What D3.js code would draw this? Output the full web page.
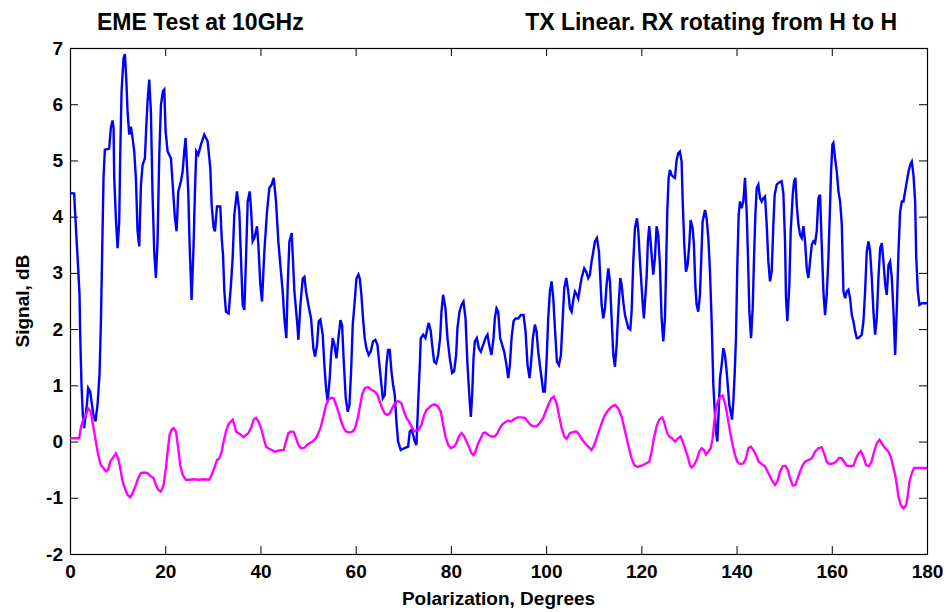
<!DOCTYPE html>
<html>
<head>
<meta charset="utf-8">
<script src="https://cdn.jsdelivr.net/npm/d3@7"></script>
<style>
  body { margin: 0; background: #fff; }
  text { font-family: "Liberation Sans", Arial, sans-serif; font-weight: bold; fill: #000; }
</style>
</head>
<body>
<div id="chart"></div>
<script>
// Axis ticks and labels
const xTicks = [0, 20, 40, 60, 80, 100, 120, 140, 160, 180];
const yTicks = [-2, -1, 0, 1, 2, 3, 4, 5, 6, 7];
const titleLeft = "EME Test at 10GHz";
const titleRight = "TX Linear. RX rotating from H to H";
const xLabel = "Polarization, Degrees";
const yLabel = "Signal, dB";

// Blue trace: [polarization deg, signal dB]
const rxSignal = [
  [0,4.42],[0.88,4.41],[1.02,4.15],[1.44,3.5],[1.72,3.08],[2,2.61],[2.14,1.9],[2.42,1],[2.7,0.47],[2.98,0.24],
  [3.54,0.65],[3.82,0.95],[4.24,0.89],[4.52,0.71],[4.94,0.47],[5.36,0.36],[5.78,0.65],[6.2,1.19],[6.48,2.08],[6.76,3.38],
  [7.04,4.69],[7.32,5.19],[8.23,5.21],[8.58,5.58],[8.93,5.71],[9.15,5.58],[9.29,4.69],[9.64,3.97],[9.99,3.44],[10.34,3.91],
  [10.55,5.1],[10.83,6.23],[11.25,6.82],[11.53,6.89],[11.81,6.46],[12.09,5.87],[12.44,5.46],[12.79,5.6],[13.14,5.4],[13.49,5.16],
  [13.84,4.69],[14.19,3.74],[14.54,3.47],[14.9,4.57],[15.25,4.92],[15.73,5.04],[16.01,5.58],[16.29,6.05],[16.64,6.44],[16.99,5.87],
  [17.34,4.39],[17.69,3.38],[18.04,2.91],[18.39,3.56],[18.75,5.1],[19.1,5.99],[19.52,6.23],[19.8,6.26],[20.08,5.52],[20.5,5.16],
  [21.2,5.04],[21.76,4.33],[22.04,3.97],[22.39,3.74],[22.74,4.45],[23.3,4.63],[23.65,4.8],[24,5.16],[24.28,5.4],[24.56,4.92],
  [24.84,4.45],[25.12,3.5],[25.54,2.52],[25.96,3.5],[26.24,4.45],[26.52,5.16],[26.94,5.1],[27.5,5.28],[28.21,5.46],[28.91,5.34],
  [29.47,4.86],[29.75,4.21],[30.17,3.8],[30.45,3.74],[30.87,4.18],[31.57,4.18],[31.86,3.62],[32.14,3.32],[32.42,2.67],[32.76,2.31],
  [33.32,2.28],[33.81,2.79],[34.16,3.26],[34.51,4.03],[35.07,4.45],[35.56,4.09],[35.91,3.26],[36.27,2.43],[36.62,2.34],[36.97,3.26],
  [37.32,4.27],[37.74,4.45],[38.02,4.15],[38.37,3.56],[38.72,3.62],[39.28,3.83],[39.56,3.5],[39.98,2.79],[40.33,2.49],[40.82,3.38],
  [41.38,4.09],[41.87,4.51],[42.36,4.57],[42.78,4.69],[43.27,4.27],[43.76,3.56],[44.18,3.14],[44.67,2.67],[45.02,2.19],[45.44,1.84],
  [45.73,2.79],[46.08,3.56],[46.57,3.71],[47.13,2.67],[47.69,2.14],[47.97,1.81],[48.39,2.43],[48.88,2.9],[49.23,2.93],[49.58,2.67],
  [50.07,2.43],[50.63,2.19],[51.12,1.66],[51.47,1.51],[51.89,1.72],[52.24,2.14],[52.59,2.17],[53.08,1.9],[53.43,1.36],[53.78,0.95],
  [54.13,0.71],[54.55,1.13],[54.83,1.54],[55.18,1.84],[55.54,1.72],[55.96,1.48],[56.38,1.84],[56.8,2.16],[57.15,2.07],[57.5,1.42],
  [57.92,0.77],[58.34,0.53],[58.69,0.65],[59.04,1.25],[59.39,2.08],[59.74,2.43],[60.16,2.9],[60.58,2.97],[60.86,2.9],[61.2,2.61],
  [61.55,2.19],[61.9,1.84],[62.25,1.66],[62.74,1.54],[63.16,1.6],[63.65,1.78],[64.14,1.81],[64.57,1.72],[64.85,1.48],[65.27,1.13],
  [65.69,0.77],[66.11,0.83],[66.46,1.36],[66.81,1.63],[67.16,1.63],[67.51,1.25],[67.86,1.01],[68.21,0.83],[68.56,0.36],[68.91,0],
  [69.47,-0.15],[70.17,-0.12],[71.01,-0.09],[71.36,0.18],[71.71,0.21],[72.06,0.12],[72.41,0],[72.76,-0.06],[73.11,0.65],[73.47,1.36],
  [73.68,1.84],[74.17,1.9],[74.66,1.84],[75.08,2.02],[75.36,2.11],[75.78,1.96],[76.06,1.72],[76.48,1.42],[76.9,1.39],[77.32,1.54],
  [77.74,1.84],[78.02,2.31],[78.37,2.61],[78.86,2.37],[79.28,1.84],[79.77,1.48],[80.26,1.22],[80.68,1.25],[81.1,1.54],[81.38,2.02],
  [81.8,2.31],[82.23,2.43],[82.65,2.49],[83.07,2.19],[83.49,1.36],[83.91,0.77],[84.19,0.44],[84.47,0.83],[84.75,1.48],[85.03,1.78],
  [85.45,1.84],[85.87,1.66],[86.29,1.6],[86.78,1.72],[87.27,1.84],[87.69,1.9],[88.04,1.72],[88.53,1.54],[88.95,1.84],[89.23,2.19],
  [89.58,2.37],[89.93,2.31],[90.35,1.84],[90.77,1.72],[91.19,1.6],[91.68,1.36],[92.04,1.13],[92.39,1.36],[92.74,1.84],[93.16,2.14],
  [93.58,2.19],[94.14,2.19],[94.7,2.25],[95.26,2.25],[95.68,1.96],[96.1,1.36],[96.52,1.13],[96.8,1.36],[97.22,1.84],[97.64,2.08],
  [97.99,1.96],[98.34,1.6],[98.69,1.36],[99.04,1.13],[99.39,0.89],[99.74,0.89],[100.09,1.42],[100.44,2.19],[100.8,2.67],[101.15,2.85],
  [101.5,2.55],[101.85,2.02],[102.27,1.42],[102.69,1.36],[103.11,1.54],[103.39,2.02],[103.81,2.73],[104.23,2.91],[104.65,2.67],[105,2.37],
  [105.35,2.31],[105.77,2.55],[106.05,2.67],[106.47,2.61],[106.75,2.55],[107.1,2.73],[107.45,2.91],[108.01,3.08],[108.43,3.02],[108.85,2.91],
  [109.2,2.97],[109.55,3.2],[109.91,3.38],[110.26,3.56],[110.68,3.62],[111.1,3.38],[111.38,2.91],[111.66,2.43],[112.01,2.19],[112.36,2.37],
  [112.71,2.79],[113.06,3.08],[113.41,2.85],[113.76,2.19],[114.11,1.54],[114.46,1.33],[114.81,1.72],[115.16,2.31],[115.58,2.91],[115.86,2.79],
  [116.21,2.49],[116.56,2.25],[116.91,2.14],[117.26,2.02],[117.68,1.99],[117.96,2.31],[118.31,3.2],[118.66,3.8],[119.09,3.97],[119.37,3.74],
  [119.72,3.2],[120.26,2.49],[120.54,2.19],[120.82,2.55],[121.1,2.91],[121.38,3.56],[121.66,3.83],[121.94,3.56],[122.22,3.26],[122.5,2.97],
  [122.85,3.26],[123.2,3.83],[123.55,3.68],[123.9,3.14],[124.26,2.19],[124.61,1.78],[124.96,2.19],[125.17,2.97],[125.45,4.09],[125.73,4.69],
  [126.01,4.83],[126.36,4.74],[126.71,4.71],[127.06,4.69],[127.41,5.01],[127.76,5.13],[128.11,5.16],[128.46,4.98],[128.67,4.33],[129.02,3.5],
  [129.37,3.02],[129.72,3.14],[130.07,3.5],[130.35,3.94],[130.77,3.8],[131.05,3.5],[131.33,2.79],[131.61,2.43],[131.96,2.31],[132.31,2.61],
  [132.59,3.26],[132.87,3.91],[133.37,4.12],[133.72,3.97],[134.07,3.62],[134.42,3.02],[134.77,2.14],[135.12,1.01],[135.47,0.47],[135.68,0.18],
  [135.96,0],[136.24,0.53],[136.52,1.13],[136.87,1.36],[137.22,1.66],[137.57,1.54],[137.92,1.25],[138.2,0.95],[138.48,0.65],[138.76,0.53],
  [139.04,0.39],[139.32,0.71],[139.6,1.19],[139.88,1.84],[140.16,3.14],[140.44,4.03],[140.72,4.27],[141.07,4.15],[141.42,4.27],[141.77,4.69],
  [142.12,4.09],[142.41,3.26],[142.69,2.31],[143.04,1.84],[143.39,2.37],[143.67,3.26],[143.95,4.03],[144.23,4.51],[144.58,4.57],[144.93,4.33],
  [145.28,4.27],[145.63,4.33],[145.98,4.36],[146.33,3.86],[146.68,3.2],[147.03,2.85],[147.38,3.02],[147.73,3.86],[148.01,4.39],[148.43,4.57],
  [148.99,4.61],[149.48,4.63],[149.83,4.42],[150.18,3.56],[150.39,2.55],[150.67,2.14],[151.09,2.79],[151.37,3.74],[151.8,4.39],[152.08,4.63],
  [152.36,4.69],[152.64,4.21],[152.99,3.86],[153.34,3.68],[153.69,3.62],[154.04,3.83],[154.39,3.56],[154.74,3.08],[155.09,2.91],[155.44,3.2],
  [155.79,3.5],[156.14,3.56],[156.49,3.53],[156.84,3.74],[157.19,4.33],[157.54,4.39],[157.89,3.5],[158.24,2.67],[158.59,2.25],[158.94,2.61],
  [159.29,3.26],[159.64,4.21],[159.85,4.8],[160.13,5.28],[160.34,5.31],[160.69,5.04],[161.05,4.8],[161.4,4.45],[161.75,4.27],[162.1,3.86],
  [162.45,2.67],[162.8,2.55],[163.15,2.67],[163.5,2.7],[163.85,2.55],[164.2,2.25],[164.55,2.14],[164.9,1.96],[165.25,1.84],[165.6,1.84],
  [165.95,1.87],[166.3,1.9],[166.65,2.14],[167,2.67],[167.35,3.38],[167.7,3.56],[168.05,3.38],[168.4,2.91],[168.75,2.31],[169.1,1.9],
  [169.45,2.19],[169.8,2.91],[170.16,3.44],[170.51,3.53],[170.86,3.2],[171.21,2.79],[171.56,2.61],[171.91,3.14],[172.26,3.2],[172.61,2.91],
  [172.96,2.31],[173.31,1.54],[173.66,2.37],[174.01,3.38],[174.36,4.09],[174.71,4.27],[175.06,4.27],[175.41,4.45],[175.76,4.63],[176.11,4.8],
  [176.46,4.92],[176.81,4.98],[177.16,4.74],[177.51,4.27],[177.72,3.32],[178.07,2.67],[178.42,2.43],[178.91,2.46],[179.62,2.46],[180,2.46]
];

// Magenta trace: [polarization deg, signal dB]
const refSignal = [
  [0,0.06],[1.93,0.06],[2.28,0.24],[2.63,0.36],[3.33,0.47],[3.82,0.59],[4.38,0.53],[4.94,0.24],[5.43,0],[5.92,-0.24],
  [6.48,-0.42],[7.04,-0.47],[7.53,-0.53],[8.02,-0.5],[8.44,-0.36],[8.93,-0.3],[9.64,-0.21],[10.13,-0.3],[10.55,-0.47],[11.04,-0.71],
  [11.53,-0.83],[12.09,-0.95],[12.65,-0.99],[13.14,-0.92],[13.84,-0.77],[14.33,-0.65],[14.89,-0.56],[15.59,-0.55],[16.29,-0.56],[16.99,-0.62],
  [17.55,-0.65],[18.04,-0.77],[18.53,-0.86],[19.1,-0.89],[19.66,-0.77],[20.15,-0.47],[20.5,-0.18],[20.92,0.12],[21.34,0.21],[21.76,0.24],
  [22.25,0.18],[22.74,-0.12],[23.16,-0.42],[23.65,-0.59],[24.35,-0.68],[25.05,-0.68],[26.1,-0.67],[27.15,-0.68],[28.21,-0.67],[29.26,-0.68],
  [29.75,-0.59],[30.31,-0.47],[30.87,-0.33],[31.36,-0.3],[31.86,-0.18],[32.27,0],[32.76,0.18],[33.25,0.3],[33.81,0.36],[34.16,0.39],
  [34.51,0.3],[34.86,0.18],[35.35,0.15],[35.91,0.12],[36.47,0.08],[36.97,0.12],[37.46,0.15],[38.02,0.24],[38.58,0.39],[39.07,0.42],
  [39.56,0.36],[40.12,0.24],[40.68,0.06],[41.17,-0.09],[41.66,-0.12],[42.36,-0.15],[43.06,-0.18],[43.97,-0.16],[44.88,-0.15],[45.37,0],
  [45.86,0.15],[46.43,0.18],[46.99,0.17],[47.48,0.06],[47.97,-0.06],[48.53,-0.12],[49.23,-0.11],[49.79,-0.06],[50.28,-0.03],[50.98,0],
  [51.68,0.06],[52.17,0.15],[52.73,0.27],[53.29,0.47],[53.78,0.65],[54.27,0.74],[54.83,0.78],[55.4,0.77],[55.89,0.65],[56.38,0.53],
  [56.94,0.36],[57.5,0.24],[57.99,0.18],[58.69,0.16],[59.39,0.18],[59.88,0.24],[60.44,0.42],[60.86,0.6],[61.34,0.83],[61.9,0.95],
  [62.6,0.97],[63.3,0.92],[64,0.89],[64.57,0.83],[65.06,0.71],[65.55,0.59],[66.11,0.5],[66.67,0.47],[67.16,0.5],[67.65,0.59],
  [68.21,0.68],[68.91,0.72],[69.61,0.68],[70.17,0.53],[70.66,0.42],[71.15,0.36],[71.71,0.27],[72.27,0.18],[72.76,0.2],[73.25,0.21],
  [73.82,0.3],[74.38,0.47],[74.87,0.56],[75.36,0.6],[75.92,0.64],[76.62,0.66],[77.32,0.62],[77.88,0.53],[78.37,0.3],[78.86,0.09],
  [79.42,-0.06],[79.98,-0.12],[80.68,-0.09],[81.17,-0.03],[81.66,0.09],[82.23,0.15],[82.79,0.09],[83.28,0],[83.77,-0.09],[84.33,-0.21],
  [84.75,-0.24],[85.17,-0.18],[85.73,-0.03],[86.29,0.06],[86.78,0.15],[87.27,0.16],[87.83,0.12],[88.53,0.09],[89.23,0.09],[89.79,0.15],
  [90.28,0.24],[90.77,0.3],[91.33,0.34],[92.04,0.37],[92.74,0.36],[93.3,0.4],[94,0.43],[94.84,0.43],[95.54,0.42],[96.1,0.36],
  [96.66,0.3],[97.29,0.27],[97.99,0.27],[98.69,0.33],[99.39,0.42],[99.88,0.53],[100.44,0.65],[101.15,0.77],[101.64,0.8],[102.2,0.68],
  [102.69,0.47],[103.25,0.24],[103.81,0.09],[104.3,0.05],[105,0.15],[105.7,0.17],[106.4,0.18],[106.89,0.13],[107.45,0.05],[108.15,-0.03],
  [108.85,-0.09],[109.55,-0.15],[110.12,-0.06],[110.61,0.06],[111.31,0.24],[111.8,0.36],[112.36,0.47],[113.06,0.56],[113.76,0.62],[114.46,0.65],
  [115.16,0.59],[115.86,0.44],[116.42,0.24],[116.91,0.06],[117.4,-0.12],[117.96,-0.3],[118.52,-0.42],[119.22,-0.45],[120.07,-0.43],[120.77,-0.4],
  [121.66,-0.36],[122.15,-0.18],[122.64,0.06],[123.2,0.27],[123.76,0.39],[124.33,0.43],[124.75,0.36],[125.31,0.18],[125.87,0.09],[126.43,0.06],
  [127.06,0],[127.76,0.06],[128.25,0.09],[128.67,0],[129.16,-0.12],[129.65,-0.24],[130.21,-0.42],[130.56,-0.46],[131.05,-0.42],[131.61,-0.33],
  [132.17,-0.18],[132.66,-0.12],[133.15,-0.15],[133.58,-0.23],[134.07,-0.18],[134.56,-0.12],[134.98,0.06],[135.33,0.36],[135.68,0.59],[136.17,0.74],
  [136.66,0.8],[137.08,0.82],[137.57,0.68],[138.06,0.47],[138.62,0.18],[139.18,-0.06],[139.67,-0.24],[140.16,-0.36],[140.72,-0.4],[141.42,-0.39],
  [141.98,-0.3],[142.48,-0.12],[142.97,-0.09],[143.53,-0.15],[144.09,-0.24],[144.65,-0.36],[145.28,-0.4],[145.98,-0.44],[146.68,-0.56],[147.38,-0.68],
  [148.08,-0.77],[148.57,-0.71],[149.13,-0.53],[149.69,-0.44],[150.25,-0.43],[150.74,-0.5],[151.23,-0.65],[151.8,-0.78],[152.36,-0.77],[152.85,-0.65],
  [153.34,-0.53],[153.9,-0.42],[154.39,-0.36],[155.09,-0.33],[155.79,-0.3],[156.49,-0.18],[157.19,-0.12],[157.89,-0.1],[158.38,-0.21],[158.94,-0.36],
  [159.5,-0.4],[160.2,-0.39],[160.91,-0.36],[161.54,-0.29],[162.1,-0.3],[162.59,-0.36],[163.15,-0.43],[163.85,-0.44],[164.55,-0.43],[165.11,-0.3],
  [165.6,-0.21],[166.09,-0.17],[166.65,-0.27],[167.21,-0.42],[167.77,-0.44],[168.33,-0.36],[168.9,-0.18],[169.46,-0.03],[170.02,0.03],[170.51,-0.03],
  [171.21,-0.12],[171.91,-0.18],[172.4,-0.27],[172.82,-0.42],[173.31,-0.59],[173.66,-0.77],[174.01,-0.98],[174.5,-1.13],[175.06,-1.19],[175.62,-1.13],
  [175.97,-0.95],[176.32,-0.71],[176.82,-0.56],[177.3,-0.47],[178.21,-0.47],[180,-0.47]
];

const width = 946;
const height = 612;
const plot = { left: 70, right: 927, top: 48, bottom: 554 };

// Create SVG
const svg = d3
  .select("#chart")
  .append("svg")
  .attr("width", width)
  .attr("height", height);

const x = d3.scaleLinear().domain([0, 180]).range([plot.left, plot.right]);
const y = d3.scaleLinear().domain([-2, 7]).range([plot.bottom, plot.top]);

// plain hyphen for negatives, like the original
const plainNum = (d) => String(d);

// Axes with inward ticks on all four sides (matlab box style)
const tickLen = 8;
svg.append("g")
  .attr("class", "x-axis")
  .attr("transform", `translate(0, ${plot.bottom})`)
  .call(d3.axisBottom(x).tickValues(xTicks).tickSize(-tickLen).tickSizeOuter(0).tickPadding(11).tickFormat(plainNum));
svg.append("g")
  .attr("transform", `translate(0, ${plot.top})`)
  .call(d3.axisTop(x).tickValues(xTicks).tickSize(-tickLen).tickSizeOuter(0).tickFormat(""));
svg.append("g")
  .attr("class", "y-axis")
  .attr("transform", `translate(${plot.left}, 0)`)
  .call(d3.axisLeft(y).tickValues(yTicks).tickSize(-tickLen).tickSizeOuter(0).tickPadding(7).tickFormat(plainNum));
svg.append("g")
  .attr("transform", `translate(${plot.right}, 0)`)
  .call(d3.axisRight(y).tickValues(yTicks).tickSize(-tickLen).tickSizeOuter(0).tickFormat(""));

svg.selectAll(".domain").remove();
svg.selectAll(".tick line").attr("stroke", "#000");
svg.selectAll(".x-axis text, .y-axis text")
  .style("font-size", "19px")
  .style("font-family", "'Liberation Sans', Arial, sans-serif")
  .style("font-weight", "bold");

// Frame
svg.append("rect")
  .attr("x", plot.left + 0.5)
  .attr("y", plot.top + 0.5)
  .attr("width", plot.right - plot.left)
  .attr("height", plot.bottom - plot.top)
  .attr("fill", "none")
  .attr("stroke", "#000")
  .attr("stroke-width", 1.2);

// Lines
const line = d3.line()
  .x((d) => x(d[0]))
  .y((d) => y(d[1]));

svg.append("path")
  .datum(rxSignal)
  .attr("fill", "none")
  .attr("stroke", "#0000ff")
  .attr("stroke-width", 2.4)
  .attr("d", line);

svg.append("path")
  .datum(refSignal)
  .attr("fill", "none")
  .attr("stroke", "#ff00ff")
  .attr("stroke-width", 2.4)
  .attr("d", line);

// Titles and axis labels
svg.append("text")
  .attr("x", 97)
  .attr("y", 30)
  .style("font-size", "23px")
  .text(titleLeft);

svg.append("text")
  .attr("x", 897)
  .attr("y", 30)
  .attr("text-anchor", "end")
  .style("font-size", "23px")
  .text(titleRight);

svg.append("text")
  .attr("x", (plot.left + plot.right) / 2)
  .attr("y", 605)
  .attr("text-anchor", "middle")
  .style("font-size", "19px")
  .text(xLabel);

svg.append("text")
  .attr("transform", `translate(29, ${(plot.top + plot.bottom) / 2}) rotate(-90)`)
  .attr("text-anchor", "middle")
  .style("font-size", "19px")
  .text(yLabel);
</script>
</body>
</html>
